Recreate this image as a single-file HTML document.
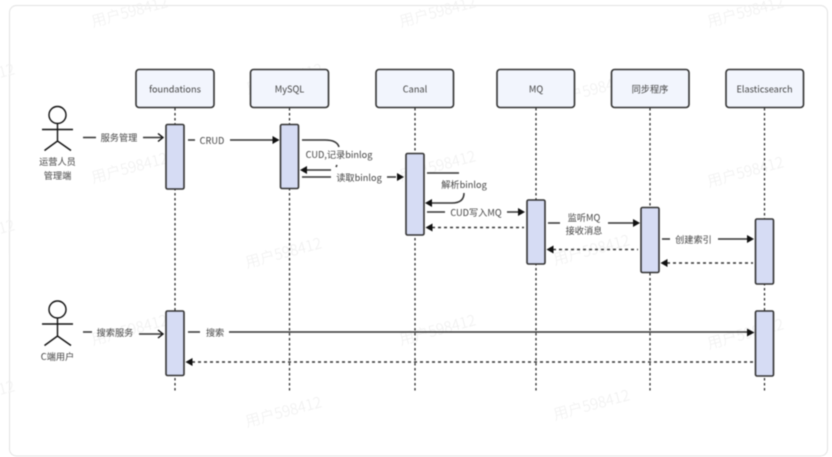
<!DOCTYPE html>
<html><head><meta charset="utf-8"><style>
html,body{margin:0;padding:0;background:#fff;width:832px;height:457px;overflow:hidden}
svg{display:block;filter:blur(.4px)}
text{font-family:"Noto Sans CJK SC","Liberation Sans",sans-serif;font-size:9.2px;fill:#444;text-anchor:middle}
.wm{font-size:15px;fill:#efefef;text-anchor:start;font-weight:300}
.box{fill:#f2f5fd;stroke:#333;stroke-width:1.6}
.act{fill:#d6dcf4;stroke:#333;stroke-width:1.6}
.life{stroke:#222;stroke-width:1.2;stroke-dasharray:2.5 2.5;fill:none}
.m{stroke:#333;stroke-width:1.5;fill:none}
.d{stroke:#333;stroke-width:1.5;fill:none;stroke-dasharray:3 3}
.ah{fill:#111;stroke:none}
.st{stroke:#111;stroke-width:1.4;fill:none}
</style></head><body>
<svg width="832" height="457" viewBox="0 0 832 457" xmlns="http://www.w3.org/2000/svg">
<rect x="9.5" y="5.5" width="818" height="450.5" rx="7" fill="#fff" stroke="#e2e2e2" stroke-width="1"/>
<g>
<text class="wm" transform="translate(93,27) rotate(-15)">用户598412</text>
<text class="wm" transform="translate(401,27) rotate(-15)">用户598412</text>
<text class="wm" transform="translate(709,27) rotate(-15)">用户598412</text>
<text class="wm" transform="translate(-60,94) rotate(-15)">用户598412</text>
<text class="wm" transform="translate(248,94) rotate(-15)">用户598412</text>
<text class="wm" transform="translate(555,105) rotate(-15)">用户598412</text>
<text class="wm" transform="translate(93,183) rotate(-15)">用户598412</text>
<text class="wm" transform="translate(401,181) rotate(-15)">用户598412</text>
<text class="wm" transform="translate(709,187) rotate(-15)">用户598412</text>
<text class="wm" transform="translate(-60,250) rotate(-15)">用户598412</text>
<text class="wm" transform="translate(247,268) rotate(-15)">用户598412</text>
<text class="wm" transform="translate(555,265) rotate(-15)">用户598412</text>
<text class="wm" transform="translate(93,345) rotate(-15)">用户598412</text>
<text class="wm" transform="translate(401,345) rotate(-15)">用户598412</text>
<text class="wm" transform="translate(709,349) rotate(-15)">用户598412</text>
<text class="wm" transform="translate(-60,411) rotate(-15)">用户598412</text>
<text class="wm" transform="translate(247,427) rotate(-15)">用户598412</text>
<text class="wm" transform="translate(555,420) rotate(-15)">用户598412</text>
</g>

<path class="life" d="M175 108V393M289.5 108V393M415 108V393M536 108V393M650 108V393M764.5 108V393"/>

<rect class="box" x="136" y="69.5" width="78" height="38" rx="3"/>
<rect class="box" x="250.5" y="69.5" width="78" height="38" rx="3"/>
<rect class="box" x="376" y="69.5" width="77.5" height="38" rx="3"/>
<rect class="box" x="497" y="69.5" width="77.5" height="38" rx="3"/>
<rect class="box" x="611.5" y="69.5" width="77.5" height="38" rx="3"/>
<rect class="box" x="726" y="69.5" width="77.5" height="38" rx="3"/>
<text x="175" y="92.500">foundations</text>
<text x="289.500" y="92.500">MySQL</text>
<text x="415" y="92.500">Canal</text>
<text x="536" y="92.500">MQ</text>
<text x="650" y="92.500">同步程序</text>
<text x="764.500" y="92.500">Elasticsearch</text>

<rect class="act" x="166" y="124.500" width="18" height="64.500" rx="1.5"/>
<rect class="act" x="166" y="311" width="18" height="64.500" rx="1.5"/>
<rect class="act" x="280.500" y="124.500" width="18" height="64" rx="1.5"/>
<rect class="act" x="406" y="153.500" width="18" height="81.500" rx="1.5"/>
<rect class="act" x="527" y="200" width="18" height="64" rx="1.5"/>
<rect class="act" x="641" y="207.500" width="18" height="65" rx="1.5"/>
<rect class="act" x="755.500" y="219" width="18" height="65" rx="1.5"/>
<rect class="act" x="755.500" y="311" width="18" height="65" rx="1.5"/>

<!-- actors -->
<g class="st">
<circle cx="57.500" cy="115" r="8.500"/>
<path d="M57.500 123.500V141M42 129.500H73M44.500 150.500L57.500 141L71 150.500"/>
<circle cx="57.500" cy="309.500" r="8.500"/>
<path d="M57.500 318V336M42 324H73M44.500 345.500L57.500 336L71 345.500"/>
</g>
<text x="57.500" y="165">运营人员</text>
<text x="57.500" y="179">管理端</text>
<text x="57.500" y="360">C端用户</text>

<!-- messages -->
<path class="m" d="M83 137.500H96M143 137.500H162"/>
<path class="st" d="M158 133.500L163 137.500L158 141.500"/>
<text x="119" y="141">服务管理</text>

<path class="m" d="M188 140H195M230 140H275"/>
<path class="ah" d="M279.500 140L272.500 136V144Z"/>
<text x="212" y="144">CRUD</text>

<path class="m" d="M302 140H325Q337 140 339 147M337 165L336 167"/>
<text x="339" y="158">CUD,记录binlog</text>
<path class="m" d="M306 170H331"/>
<path class="ah" d="M300 170L307 166V174Z"/>

<path class="m" d="M302 177H331M387 177H396"/>
<path class="ah" d="M404 177L397 173V181Z"/>
<text x="359" y="181">读取binlog</text>

<path class="m" d="M427 173H459"/>
<text x="464" y="188">解析binlog</text>
<path class="m" d="M431 203H452Q464 203 464 193"/>
<path class="ah" d="M425 203L432 199V207Z"/>

<path class="m" d="M427 212H445M507 212H518"/>
<path class="ah" d="M525 212L518 208V216Z"/>
<text x="476" y="216">CUD写入MQ</text>

<path class="d" d="M432 227.500H524"/>
<path class="ah" d="M425.500 227.500L432.500 223.500V231.500Z"/>

<path class="m" d="M548 223H560M608 223H634"/>
<path class="ah" d="M640 223L633 219V227Z"/>
<text x="584" y="221">监听MQ</text>
<text x="584" y="234">接收消息</text>

<path class="d" d="M553 249.500H638"/>
<path class="ah" d="M546.500 249.500L553.500 245.500V253.500Z"/>

<path class="m" d="M662 239H670M718 239H748"/>
<path class="ah" d="M754 239L747 235V243Z"/>
<text x="693.500" y="243">创建索引</text>

<path class="d" d="M667 263H753"/>
<path class="ah" d="M660.500 263L667.500 259V267Z"/>

<path class="m" d="M83 332H92M139 334H162"/>
<path class="st" d="M158 330L163 334L158 338"/>
<text x="115" y="336">搜索服务</text>

<path class="m" d="M188 332H200M229 332H748"/>
<path class="ah" d="M754.500 332.500L747 328.500V336.500Z"/>
<text x="215" y="336">搜索</text>

<path class="d" d="M192 362H753"/>
<path class="ah" d="M185.500 362L192.500 358V366Z"/>
</svg>
</body></html>
